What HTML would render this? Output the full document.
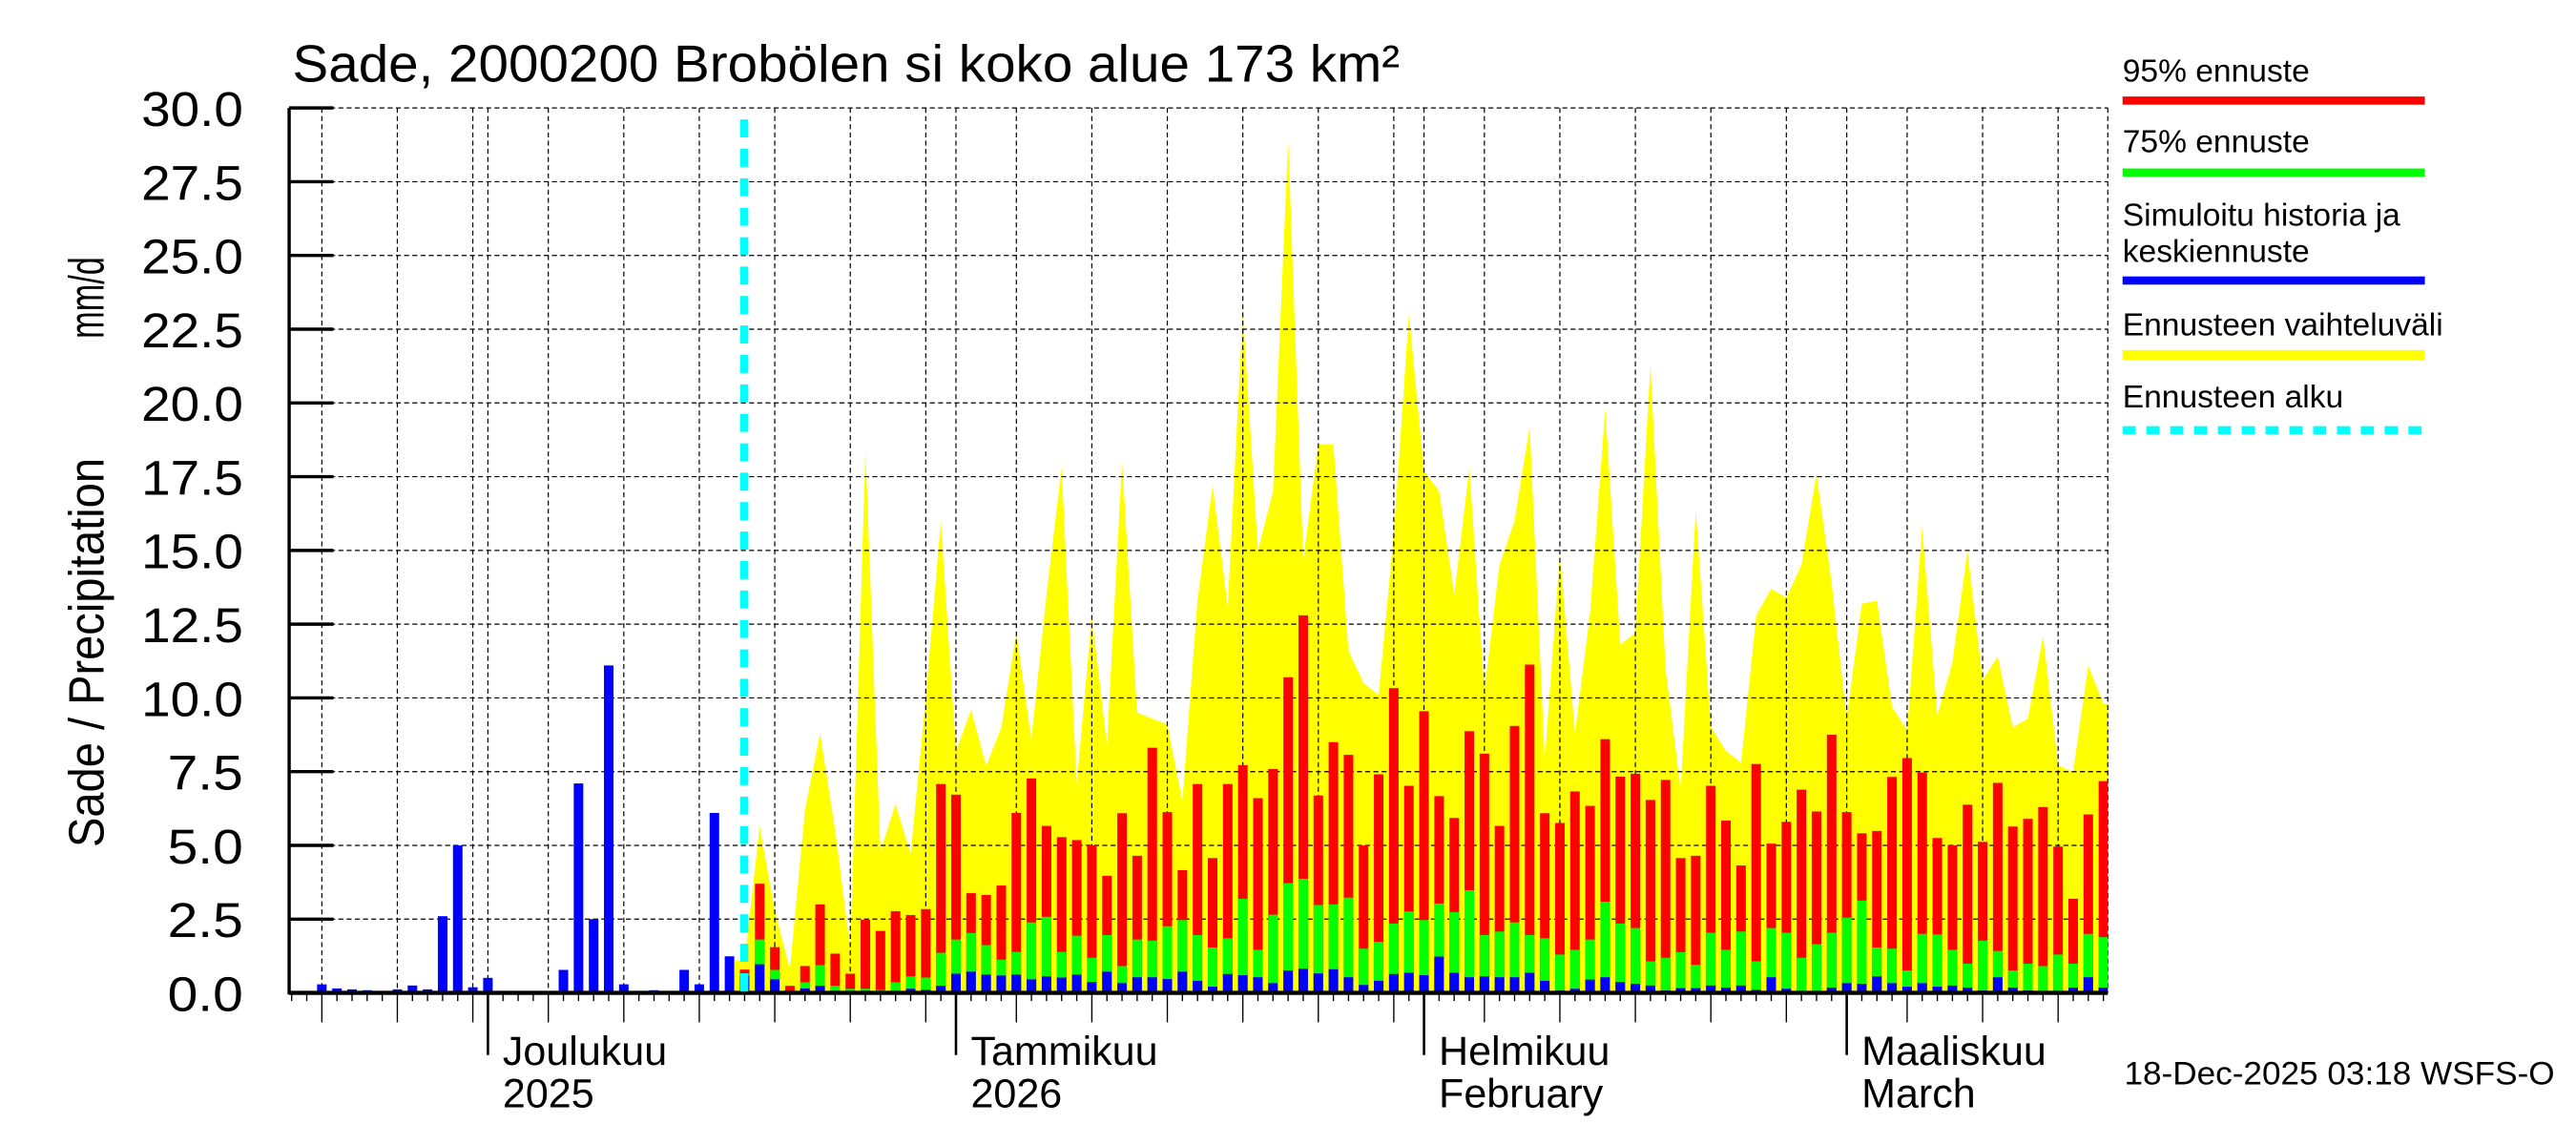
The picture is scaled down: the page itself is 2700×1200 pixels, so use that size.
<!DOCTYPE html>
<html><head><meta charset="utf-8"><title>Sade 2000200 Brobölen</title>
<style>html,body{margin:0;padding:0;background:#fff;}svg{display:block;}text{font-family:"Liberation Sans",sans-serif;fill:#000;}</style>
</head><body>
<svg id="chart" xmlns="http://www.w3.org/2000/svg" width="2700" height="1200" viewBox="0 0 1568 700" preserveAspectRatio="none">
<defs><clipPath id="plotclip"><rect x="176" y="60" width="1107" height="548"/></clipPath></defs>
<g id="yellow-layer" clip-path="url(#plotclip)"></g>
<g id="grid"></g>
<g id="bars" clip-path="url(#plotclip)"></g>
<g id="axes"></g>
<line x1="453" y1="73" x2="453" y2="607" stroke="#00ffff" stroke-width="5" stroke-dasharray="11,7"/>
<text x="178" y="50" font-size="32" textLength="674" lengthAdjust="spacingAndGlyphs">Sade, 2000200 Brobölen si koko alue 173 km²</text>
<text transform="translate(63,518) rotate(-90)" font-size="30" textLength="238" lengthAdjust="spacingAndGlyphs">Sade / Precipitation</text>
<text transform="translate(63,207) rotate(-90)" font-size="30" textLength="50" lengthAdjust="spacingAndGlyphs">mm/d</text>
<g>
<text x="1292" y="50" font-size="19.5">95% ennuste</text>
<rect x="1292" y="59" width="184" height="5" fill="#ff0000"/>
<text x="1292" y="93" font-size="19.5">75% ennuste</text>
<rect x="1292" y="103" width="184" height="5" fill="#00ff00"/>
<text x="1292" y="138" font-size="19.5">Simuloitu historia ja</text>
<text x="1292" y="160" font-size="19.5">keskiennuste</text>
<rect x="1292" y="169" width="184" height="5" fill="#0000ff"/>
<text x="1292" y="205" font-size="19.5">Ennusteen vaihteluväli</text>
<rect x="1292" y="214" width="184" height="6" fill="#ffff00"/>
<text x="1292" y="249" font-size="19.5">Ennusteen alku</text>
<line x1="1292" y1="263" x2="1476" y2="263" stroke="#00ffff" stroke-width="5" stroke-dasharray="8,6.5"/>
</g>
<text x="1555" y="663" font-size="20" text-anchor="end" textLength="262" lengthAdjust="spacingAndGlyphs">18-Dec-2025 03:18 WSFS-O</text>
</svg>
<script>
// day offsets are relative to 1 Dec 2025
const histStart = -13; // 18 Nov 2025
const histValues = [0.02,0,0.29,0.15,0.12,0.09,0.03,0.12,0.25,0.12,2.6,5.0,0.19,0.51,0,0.05,0.03,0.02,0.78,7.1,2.5,11.1,0.29,0.01,0.09,0,0.78,0.29,6.1,1.24];
const fcStart = 17; // 18 Dec 2025
const fcMax = [1.1,5.64,2.8,0.8,6.2,8.8,5.5,1.5,18.4,4.8,6.4,4.7,10.0,16.0,
8.2,9.6,7.7,9.0,12.2,8.6,13.5,17.8,7.1,12.8,8.4,18.0,9.5,9.3,9.1,6.5,13.3,17.2,13.1,23.1,15.0,17.0,28.9,14.7,18.6,18.6,11.6,10.5,10.1,15.6,23.0,
17.7,17.0,13.5,17.8,10.2,14.5,16.0,19.2,7.9,14.9,8.8,12.9,19.8,11.8,12.2,21.3,11.0,6.9,16.4,9.0,8.2,7.8,12.8,13.7,13.4,14.5,17.6,13.9,
9.3,13.2,13.3,9.7,8.9,15.8,9.4,11.2,15.0,10.6,11.4,9.0,9.3,12.1,7.7,7.5,11.1,9.8];
const fc95 = [0.79,3.7,1.55,0.24,0.91,3.0,1.33,0.65,2.48,2.1,2.77,2.64,2.84,7.08,
6.72,3.38,3.32,3.64,6.1,7.27,5.66,5.28,5.18,5.0,3.97,6.09,4.65,8.31,6.13,4.16,7.08,4.57,7.08,7.72,6.6,7.59,10.7,12.8,6.69,8.5,8.07,5.0,7.41,10.33,7.02,
9.55,6.67,5.93,8.87,8.11,5.66,9.05,11.13,6.09,5.76,6.83,6.34,8.6,7.33,7.43,6.54,7.22,4.57,4.65,7.02,5.84,4.32,7.76,5.06,5.8,6.89,6.15,8.75,
6.13,5.41,5.49,7.32,7.96,7.47,5.25,5.0,6.38,5.12,7.12,5.64,5.9,6.3,4.96,3.19,6.05,7.18];
const fc75 = [0.64,1.81,0.78,0.04,0.36,0.94,0.24,0.14,0.14,0.1,0.36,0.56,0.52,1.36,
1.81,2.03,1.62,1.13,1.39,2.39,2.58,1.39,1.94,1.19,1.96,0.91,1.81,1.77,2.26,2.47,1.96,1.54,1.85,3.19,1.46,2.65,3.72,3.87,2.98,3.0,3.23,1.5,1.73,2.35,2.76,
2.47,3.03,2.74,3.48,1.96,2.08,2.39,1.96,1.85,1.3,1.46,1.81,3.09,2.35,2.2,1.07,1.19,1.38,0.95,2.04,1.46,2.08,1.07,2.2,2.04,1.19,1.65,2.04,
2.55,3.13,1.54,1.5,0.76,2.0,1.98,1.46,0.99,1.77,1.42,0.76,0.99,0.91,1.3,0.99,2.0,1.89];
const fcMedian = [0.59,0.97,0.46,0.02,0.15,0.24,0.07,0.05,0.02,0.01,0.04,0.14,0.1,0.24,
0.65,0.72,0.62,0.59,0.62,0.46,0.56,0.52,0.62,0.37,0.72,0.33,0.53,0.53,0.47,0.72,0.41,0.21,0.64,0.6,0.53,0.33,0.76,0.82,0.66,0.8,0.53,0.27,0.41,0.64,0.68,
0.6,1.23,0.68,0.53,0.56,0.53,0.53,0.68,0.41,0.08,0.14,0.45,0.53,0.37,0.31,0.25,0.08,0.16,0.16,0.25,0.18,0.25,0.1,0.53,0.14,0.04,0.02,0.18,
0.33,0.31,0.56,0.33,0.21,0.33,0.21,0.25,0.18,0.08,0.53,0.18,0.08,0.04,0.02,0.18,0.53,0.18];
const yTicks = [0,2.5,5,7.5,10,12.5,15,17.5,20,22.5,25,27.5,30];
const yTickLabels = ["0.0","2.5","5.0","7.5","10.0","12.5","15.0","17.5","20.0","22.5","25.0","27.5","30.0"];
const monthDays = [0,31,62,90];
const monthLabels = [["Joulukuu","2025"],["Tammikuu","2026"],["Helmikuu","February"],["Maaliskuu","March"]];
const gridDays = [-11,-6,-1,4,9,14,19,24,29,35,40,45,50,55,60,66,71,76,81,86,94,99,104];

const NS='http://www.w3.org/2000/svg';
const X0=176,X1=1283,Y0=607,YT=66;
function xDay(d){return 297+d*9.19;}
function yVal(v){return Y0-(v/30)*(Y0-YT);}
function mk(tag,attrs,parent){const e=document.createElementNS(NS,tag);for(const k in attrs)e.setAttribute(k,attrs[k]);parent.appendChild(e);return e;}
const BW=5.8;
const grid=document.getElementById('grid'),axes=document.getElementById('axes'),bars=document.getElementById('bars'),yl=document.getElementById('yellow-layer');

let pts=[];
pts.push([xDay(fcStart)-6,Y0]);
pts.push([xDay(fcStart)-6,yVal(fcMax[0])]);
fcMax.forEach((v,i)=>pts.push([xDay(fcStart+i),yVal(v)]));
pts.push([xDay(fcStart+fcMax.length-1)+6,yVal(fcMax[fcMax.length-1])]);
pts.push([xDay(fcStart+fcMax.length-1)+6,Y0]);
const poly=mk('polygon',{points:pts.map(p=>p[0].toFixed(1)+','+p[1].toFixed(1)).join(' '),fill:'#ffff00'},yl);



yTicks.forEach((t,i)=>{
  if(i>0){const l=mk('line',{x1:X0,x2:X1,y1:yVal(t),y2:yVal(t),stroke:'#000','stroke-width':0.7,'stroke-dasharray':'3,2'},grid);
  
  }
  const tk=mk('line',{x1:X0,x2:203,y1:yVal(t),y2:yVal(t),stroke:'#000','stroke-width':2},axes);
  
  
  const tx=mk('text',{x:148,y:yVal(t)+11,'font-size':30,'text-anchor':'end',textLength:yTickLabels[i].length>3?62:46,lengthAdjust:'spacingAndGlyphs'},axes);
  tx.textContent=yTickLabels[i];
  
  
});
gridDays.concat(monthDays).forEach(d=>{
  const l=mk('line',{x1:xDay(d),x2:xDay(d),y1:YT,y2:Y0,stroke:'#000','stroke-width':0.7,'stroke-dasharray':'3,2'},grid);
  
  
});
const rg=mk('line',{x1:X1,x2:X1,y1:YT,y2:Y0,stroke:'#000','stroke-width':0.7,'stroke-dasharray':'3,2'},grid);



function bar(d,v,color,name){
  if(v<=0)return;
  const r=mk('rect',{x:xDay(d)-BW/2,y:yVal(v),width:BW,height:Y0-yVal(v),fill:color},bars);
  
  
}
histValues.forEach((v,i)=>bar(histStart+i,v,'#0000ff','history-bar'));
fc95.forEach((v,i)=>bar(fcStart+i,v,'#ff0000','p95-bar'));
fc75.forEach((v,i)=>bar(fcStart+i,v,'#00ff00','p75-bar'));
fcMedian.forEach((v,i)=>bar(fcStart+i,v,'#0000ff','median-bar'));

const ya=mk('line',{x1:X0,x2:X0,y1:YT,y2:Y0+1,stroke:'#000','stroke-width':2},axes);


const xa=mk('line',{x1:X0,x2:X1,y1:Y0,y2:Y0,stroke:'#000','stroke-width':2.5},axes);


for(let d=histStart;d<=107;d++){
  let len=5;
  if(gridDays.includes(d))len=18;
  if(monthDays.includes(d))len=38;
  const t=mk('line',{x1:xDay(d),x2:xDay(d),y1:Y0,y2:Y0+len,stroke:'#000','stroke-width':monthDays.includes(d)?1.5:0.8},axes);
  
  
}
monthDays.forEach((d,i)=>{
  const a=mk('text',{x:xDay(d)+9,y:651,'font-size':25},axes);
  a.textContent=monthLabels[i][0];
  
  
  const b=mk('text',{x:xDay(d)+9,y:677,'font-size':25},axes);
  b.textContent=monthLabels[i][1];
  
  
});
</script>
</body></html>
